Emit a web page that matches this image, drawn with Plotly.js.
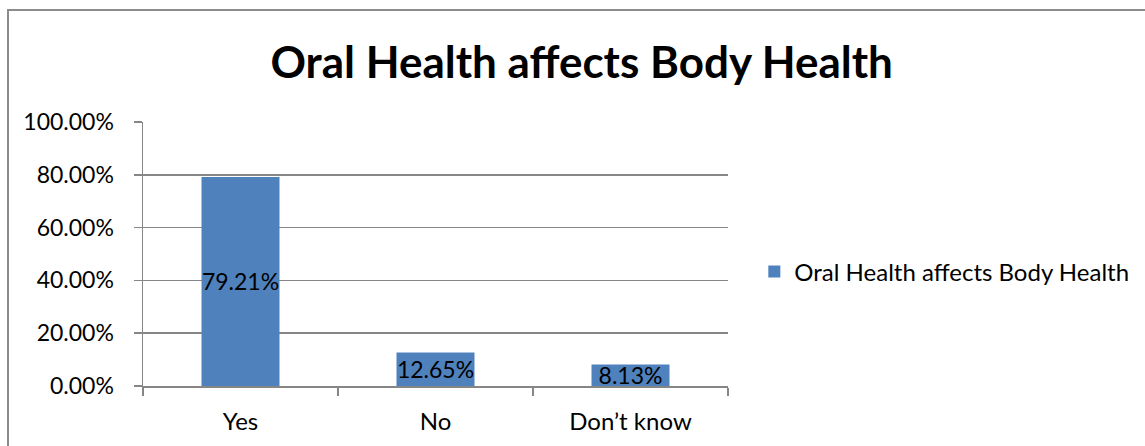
<!DOCTYPE html>
<html>
<head>
<meta charset="utf-8">
<script src="https://cdn.plot.ly/plotly-3.0.1.min.js"></script>
<style>
  html, body { margin: 0; padding: 0; background: #fff; }
  #wrap { position: relative; width: 1145px; height: 446px; overflow: hidden; }
  #frame { position: absolute; left: 7px; top: 9px; width: 1200px; height: 500px;
           border-left: 2px solid #8c8c8c; border-top: 2px solid #8c8c8c; box-sizing: border-box; }
  #chart { position: absolute; left: 0; top: 0; width: 1145px; height: 446px; }
</style>
</head>
<body>
<div id="wrap">
  <div id="frame"></div>
  <div id="chart"></div>
</div>
<script>
// Survey responses: does oral health affect body health?
const categories = ["Yes", "No", "Don\u2019t know"];
const shares = [0.7921, 0.1265, 0.0813];
const seriesName = "Oral Health affects Body Health";

const FONT = "Lato, 'Open Sans', sans-serif";
const GRID = "#868686";

const trace = {
  type: "bar",
  x: categories,
  y: shares,
  name: seriesName,
  marker: { color: "#4F81BD" },
  texttemplate: "%{y:.2%}",
  textposition: "inside",
  insidetextanchor: "middle",
  textangle: 0,
  constraintext: "none",
  textfont: { family: FONT, size: 23, color: "#000" },
  hoverinfo: "skip",
  showlegend: true
};

const layout = {
  width: 1145,
  height: 446,
  paper_bgcolor: "rgba(0,0,0,0)",
  plot_bgcolor: "rgba(0,0,0,0)",
  margin: { l: 143, r: 417, t: 122, b: 60, pad: 0, autoexpand: false },
  bargap: 0.6,
  font: { family: FONT, color: "#000", size: 23 },
  title: {
    text: "<b>Oral Health affects Body Health</b>",
    font: { family: FONT, size: 44, color: "#000" },
    x: 0.508, xanchor: "center",
    y: 0.86, yanchor: "middle"
  },
  xaxis: {
    type: "category",
    showline: true, linecolor: GRID, linewidth: 1.5,
    ticks: "outside", ticklen: 8, tickcolor: GRID, tickwidth: 1.5,
    tickson: "boundaries",
    showgrid: false,
    ticklabelstandoff: 14,
    tickfont: { family: FONT, size: 24, color: "#000" }
  },
  yaxis: {
    range: [0, 1],
    dtick: 0.2,
    tickformat: ".2%",
    showline: true, linecolor: GRID, linewidth: 1.5,
    ticks: "outside", ticklen: 8, tickcolor: GRID, tickwidth: 1.5,
    showgrid: true, gridcolor: GRID, gridwidth: 1.5,
    zeroline: false,
    ticklabelstandoff: 15,
    tickfont: { family: FONT, size: 23, color: "#000" }
  },
  showlegend: true,
  legend: {
    x: 1.045, xanchor: "left",
    y: 0.432, yanchor: "middle",
    font: { family: FONT, size: 24, color: "#000" },
    itemwidth: 30,
    bgcolor: "rgba(0,0,0,0)"
  }
};

Plotly.newPlot("chart", [trace], layout, { displayModeBar: false, staticPlot: true });
</script>
</body>
</html>
